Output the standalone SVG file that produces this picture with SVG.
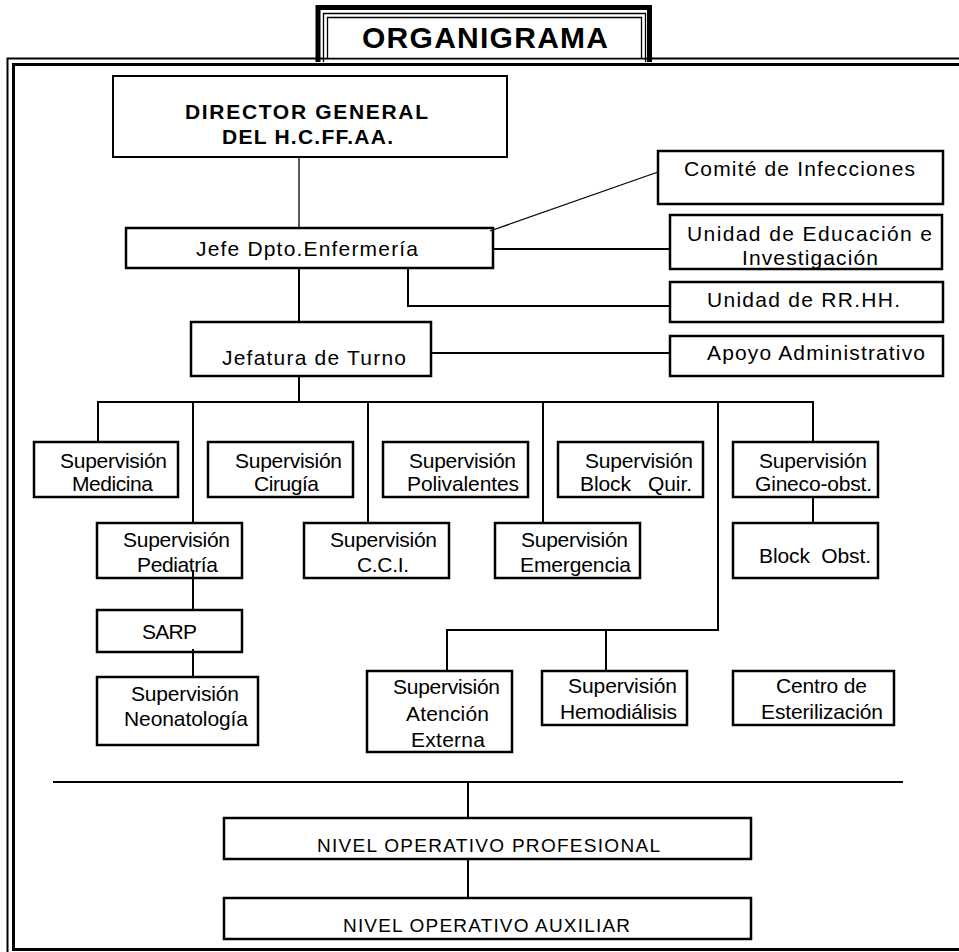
<svg xmlns="http://www.w3.org/2000/svg" width="959" height="952" viewBox="0 0 959 952">
<style>
.box{fill:#fff;stroke:#000;stroke-width:2.5}
.t{font-family:"Liberation Sans",Arial,sans-serif;font-size:21px;fill:#000}
.b{font-weight:bold}
.c{stroke:#000;stroke-width:2;fill:none}
.thin{stroke-width:1.3}
</style>
<rect x="0" y="0" width="959" height="952" fill="#fff"/>
<g id="frame">
<rect x="7.5" y="58.5" width="1000" height="900" fill="none" stroke="#000" stroke-width="2"/>
<rect x="13.5" y="64.5" width="1000" height="885" fill="none" stroke="#000" stroke-width="3"/>
</g>
<g id="title">
<rect x="323.5" y="13.5" width="322" height="44" fill="#fff"/>
<path d="M318,62 V7.5 H649.5 V62" fill="none" stroke="#000" stroke-width="5"/>
<path d="M323.5,62 V13.5 H645.5 V62" fill="none" stroke="#000" stroke-width="1.3"/>
<path d="M327.5,58 V17.5 H641.5 V58" fill="none" stroke="#000" stroke-width="1.3"/>
<text class="t b" x="362" y="48" style="font-size:30px" textLength="246" lengthAdjust="spacing">ORGANIGRAMA</text>
</g>
<g id="n_director"><rect class="box" x="113" y="76" width="394" height="81" style="stroke-width:2"/>
<text class="t b" x="185" y="119" style="font-size:21px" textLength="243" lengthAdjust="spacing">DIRECTOR GENERAL</text>
<text class="t b" x="222" y="144" style="font-size:21px" textLength="171" lengthAdjust="spacing">DEL H.C.FF.AA.</text></g>
<g id="n_comite"><rect class="box" x="658" y="151" width="285" height="53"/>
<text class="t" x="684" y="176" textLength="231" lengthAdjust="spacing">Comité de Infecciones</text></g>
<g id="n_educacion"><rect class="box" x="670" y="215" width="272" height="54"/>
<text class="t" x="687" y="241" textLength="245" lengthAdjust="spacing">Unidad de Educación e</text>
<text class="t" x="742" y="265" textLength="136" lengthAdjust="spacing">Investigación</text></g>
<g id="n_jefe"><rect class="box" x="126" y="228" width="367" height="40"/>
<text class="t" x="196" y="256" textLength="222" lengthAdjust="spacing">Jefe Dpto.Enfermería</text></g>
<g id="n_rrhh"><rect class="box" x="670" y="282" width="273" height="40"/>
<text class="t" x="707" y="307" textLength="193" lengthAdjust="spacing">Unidad de RR.HH.</text></g>
<g id="n_jefatura"><rect class="box" x="191" y="322" width="240" height="54"/>
<text class="t" x="222" y="365" textLength="184" lengthAdjust="spacing">Jefatura de Turno</text></g>
<g id="n_apoyo"><rect class="box" x="670" y="336" width="273" height="40"/>
<text class="t" x="707" y="360" textLength="218" lengthAdjust="spacing">Apoyo Administrativo</text></g>
<g id="n_medicina"><rect class="box" x="34" y="442" width="144" height="55"/>
<text class="t" x="60" y="468" textLength="107" lengthAdjust="spacing">Supervisión</text>
<text class="t" x="72" y="491" textLength="81" lengthAdjust="spacing">Medicina</text></g>
<g id="n_cirugia"><rect class="box" x="208" y="442" width="145" height="55"/>
<text class="t" x="235" y="468" textLength="107" lengthAdjust="spacing">Supervisión</text>
<text class="t" x="254" y="491" textLength="65" lengthAdjust="spacing">Cirugía</text></g>
<g id="n_polivalentes"><rect class="box" x="383" y="442" width="145" height="55"/>
<text class="t" x="409" y="468" textLength="107" lengthAdjust="spacing">Supervisión</text>
<text class="t" x="407" y="491" textLength="112" lengthAdjust="spacing">Polivalentes</text></g>
<g id="n_blockquir"><rect class="box" x="558" y="442" width="145" height="55"/>
<text class="t" x="585" y="468" textLength="108" lengthAdjust="spacing">Supervisión</text>
<text class="t" x="580" y="491" textLength="112" lengthAdjust="spacing" xml:space="preserve">Block   Quir.</text></g>
<g id="n_gineco"><rect class="box" x="733" y="442" width="145" height="55"/>
<text class="t" x="759" y="468" textLength="108" lengthAdjust="spacing">Supervisión</text>
<text class="t" x="755" y="491" textLength="117" lengthAdjust="spacing">Gineco-obst.</text></g>
<g id="n_pediatria"><rect class="box" x="97" y="523" width="145" height="55"/>
<text class="t" x="123" y="547" textLength="107" lengthAdjust="spacing">Supervisión</text>
<text class="t" x="137" y="572" textLength="81" lengthAdjust="spacing">Pediatría</text></g>
<g id="n_cci"><rect class="box" x="304" y="523" width="145" height="55"/>
<text class="t" x="330" y="547" textLength="107" lengthAdjust="spacing">Supervisión</text>
<text class="t" x="357" y="572" textLength="52" lengthAdjust="spacing">C.C.I.</text></g>
<g id="n_emergencia"><rect class="box" x="495" y="523" width="145" height="55"/>
<text class="t" x="521" y="547" textLength="107" lengthAdjust="spacing">Supervisión</text>
<text class="t" x="520" y="572" textLength="111" lengthAdjust="spacing">Emergencia</text></g>
<g id="n_blockobst"><rect class="box" x="733" y="523" width="145" height="55"/>
<text class="t" x="759" y="563" textLength="112" lengthAdjust="spacing" xml:space="preserve">Block  Obst.</text></g>
<g id="n_sarp"><rect class="box" x="97" y="610" width="145" height="42"/>
<text class="t" x="142" y="639" textLength="55" lengthAdjust="spacing">SARP</text></g>
<g id="n_neonatologia"><rect class="box" x="97" y="677" width="161" height="68"/>
<text class="t" x="131" y="701" textLength="108" lengthAdjust="spacing">Supervisión</text>
<text class="t" x="124" y="726" textLength="124" lengthAdjust="spacing">Neonatología</text></g>
<g id="n_atencion"><rect class="box" x="367" y="671" width="145" height="81"/>
<text class="t" x="393" y="694" textLength="107" lengthAdjust="spacing">Supervisión</text>
<text class="t" x="406" y="721" textLength="83" lengthAdjust="spacing">Atención</text>
<text class="t" x="411" y="747" textLength="74" lengthAdjust="spacing">Externa</text></g>
<g id="n_hemodialisis"><rect class="box" x="542" y="671" width="145" height="54"/>
<text class="t" x="568" y="693" textLength="109" lengthAdjust="spacing">Supervisión</text>
<text class="t" x="560" y="719" textLength="117" lengthAdjust="spacing">Hemodiálisis</text></g>
<g id="n_centro"><rect class="box" x="733" y="671" width="161" height="54"/>
<text class="t" x="776" y="693" textLength="91" lengthAdjust="spacing">Centro de</text>
<text class="t" x="761" y="719" textLength="122" lengthAdjust="spacing">Esterilización</text></g>
<g id="n_profesional"><rect class="box" x="224" y="818" width="527" height="41"/>
<text class="t" x="317" y="852" style="font-size:19px" textLength="343" lengthAdjust="spacing">NIVEL OPERATIVO PROFESIONAL</text></g>
<g id="n_auxiliar"><rect class="box" x="224" y="898" width="527" height="41"/>
<text class="t" x="343" y="932" style="font-size:19px" textLength="287" lengthAdjust="spacing">NIVEL OPERATIVO AUXILIAR</text></g>
<g id="connectors">
<path class="c thin" d="M299,157 V228"/>
<path class="c thin" d="M490,231 L658,172"/>
<path class="c" d="M493,249 H670"/>
<path class="c" d="M408,268 V306 H670"/>
<path class="c" d="M299,268 V322"/>
<path class="c" d="M431,353 H670"/>
<path class="c" d="M299,376 V402"/>
<path class="c" d="M98,442 V402 H813 V442"/>
<path class="c" d="M193,402 V523"/>
<path class="c" d="M368,402 V523"/>
<path class="c" d="M543,402 V523"/>
<path class="c" d="M718,402 V630 H447 V671"/>
<path class="c" d="M606,630 V671"/>
<path class="c" d="M813,497 V523"/>
<path class="c" d="M193,570 V610"/>
<path class="c" d="M193,649 V677"/>
<path class="c" d="M53,782 H903"/>
<path class="c" d="M468,782 V818"/>
<path class="c" d="M468,859 V898"/>
</g>
</svg>
